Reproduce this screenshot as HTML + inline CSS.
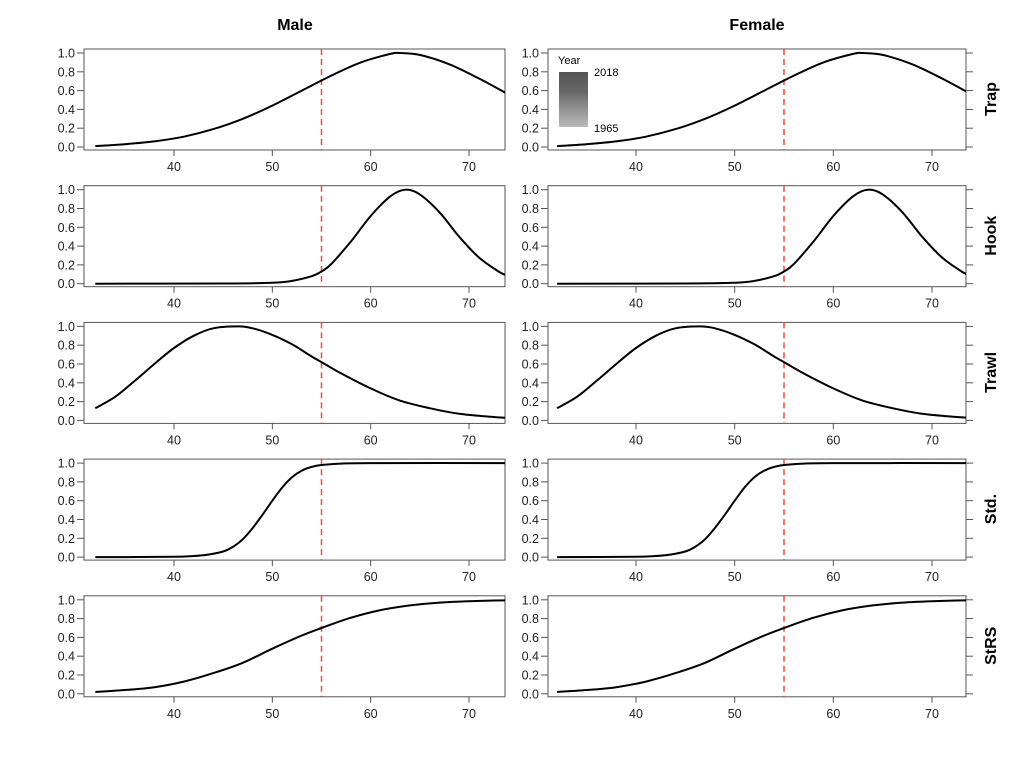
<!DOCTYPE html>
<html><head><meta charset="utf-8"><style>
body{margin:0;background:#fff;font-family:"Liberation Sans",sans-serif}
svg text{font-family:"Liberation Sans",sans-serif}
</style></head><body>
<svg id="chart" width="1024" height="768" viewBox="0 0 1024 768" xmlns="http://www.w3.org/2000/svg">
<defs><linearGradient id="yg" x1="0" y1="0" x2="0" y2="1">
<stop offset="0" stop-color="#555"/><stop offset="0.35" stop-color="#666"/><stop offset="0.6" stop-color="#888"/><stop offset="1" stop-color="#bbb"/></linearGradient></defs>
<text x="295" y="30" text-anchor="middle" font-size="16" font-weight="bold">Male</text>
<text x="757" y="30" text-anchor="middle" font-size="16" font-weight="bold">Female</text>
<g id="panels"></g>
</svg>
<script>
const gears = ["Trap","Hook","Trawl","Std.","StRS"];
const sexes = ["Male","Female"];
const xTicks = [40,50,60,70];
const yTicks = [0,0.2,0.4,0.6,0.8,1.0];
const cutLine = 55;
const trapX = [32,35,38,41,44,47,50,53,56,59,62,63,65,68,71,74];
const trapY = [0.01,0.03,0.06,0.11,0.19,0.30,0.44,0.60,0.76,0.90,0.99,1.0,0.98,0.88,0.73,0.56];
const hookX = [32,45,50,52,54,55,56,58,60,62,63.5,65,67,69,71,73,74];
const hookY = [0,0.002,0.01,0.03,0.08,0.13,0.21,0.45,0.72,0.93,1.0,0.95,0.76,0.50,0.28,0.13,0.08];
const trawlX = [32,34,36,38,40,42,44,46.5,48,50,52,54,55,57,60,63,66,69,72,74];
const trawlY = [0.13,0.25,0.42,0.60,0.77,0.90,0.98,1.0,0.98,0.91,0.81,0.68,0.62,0.50,0.34,0.21,0.13,0.07,0.04,0.025];
const stdX = [32,40,43,45,46,47,48,49,50,51,52,53,54,55,57,60,74];
const stdY = [0,0.003,0.02,0.06,0.11,0.19,0.31,0.45,0.60,0.74,0.85,0.92,0.96,0.98,0.995,1.0,1.0];
const strsX = [32,35,38,41,44,47,50,53,55,58,61,64,67,70,74];
const strsY = [0.02,0.04,0.07,0.13,0.22,0.33,0.48,0.62,0.70,0.81,0.89,0.94,0.97,0.985,0.995];
const seriesX = [trapX,hookX,trawlX,stdX,strsX];
const seriesY = [trapY,hookY,trawlY,stdY,strsY];

const NS="http://www.w3.org/2000/svg";
const root=document.getElementById('panels');
function mk(tag,attrs,parent){const e=document.createElementNS(NS,tag);for(const k in attrs)e.setAttribute(k,attrs[k]);(parent||root).appendChild(e);return e;}
const colLeft=[84,548], colRight=[505,966];
const xRef=[[174,469],[636,932]];
function xs(c,v){return xRef[c][0]+(v-40)*(xRef[c][1]-xRef[c][0])/30;}
function pathFor(px,py){let d="M"+px[0].toFixed(1)+","+py[0].toFixed(1);
 for(let i=0;i<px.length-1;i++){const x0=px[Math.max(i-1,0)],y0=py[Math.max(i-1,0)],x1=px[i],y1=py[i],x2=px[i+1],y2=py[i+1],x3=px[Math.min(i+2,px.length-1)],y3=py[Math.min(i+2,px.length-1)];
 d+=" C"+(x1+(x2-x0)/6).toFixed(1)+","+(y1+(y2-y0)/6).toFixed(1)+" "+(x2-(x3-x1)/6).toFixed(1)+","+(y2-(y3-y1)/6).toFixed(1)+" "+x2.toFixed(1)+","+y2.toFixed(1);}
 return d;}
gears.forEach((g,r)=>{
 const top=49+r*136.7, bot=top+101, y1=top+4, y0=top+98;
 const ys=v=>y0-(y0-y1)*v;
 sexes.forEach((s,c)=>{
  const L=colLeft[c],R=colRight[c];
  const grp=mk('g',{});
  
  
  const fr=mk('rect',{x:L,y:top,width:R-L,height:bot-top,fill:'none',stroke:'#555','stroke-width':1},grp);
  
  
  xTicks.forEach(t=>{const x=xs(c,t);
   mk('line',{x1:x,x2:x,y1:bot,y2:bot+6,stroke:'#555'},grp);
   const tx=mk('text',{x:x,y:bot+21,'text-anchor':'middle','font-size':12.5,fill:'#222'},grp);tx.textContent=t;
   
   });
  yTicks.forEach(t=>{const y=ys(t);
   mk('line',{x1:L-7,x2:L,y1:y,y2:y,stroke:'#555'},grp);
   const tx=mk('text',{x:L-9,y:y+4.5,'text-anchor':'end','font-size':12.5,fill:'#222'},grp);tx.textContent=t.toFixed(1);
   
   
   if(c===1)mk('line',{x1:R,x2:R+7,y1:y,y2:y,stroke:'#555'},grp);});
  const xc=xs(c,cutLine);
  const cl=mk('line',{x1:xc,x2:xc,y1:top,y2:bot,stroke:'#f04a3a','stroke-width':1.5,'stroke-dasharray':'6,4'},grp);
  
  
  const px=seriesX[r].map(v=>xs(c,v)), py=seriesY[r].map(ys);
  const cp=mk('clipPath',{id:'cp'+r+c},grp);mk('rect',{x:L,y:top,width:R-L,height:bot-top},cp);
  const p=mk('path',{d:pathFor(px,py),fill:'none',stroke:'#000','stroke-width':2,'clip-path':'url(#cp'+r+c+')'},grp);
  
  
 });
 const lab=mk('text',{x:0,y:0,transform:'translate(996,'+(top+50)+') rotate(-90)','text-anchor':'middle','font-size':16,'font-weight':'bold'});
 lab.textContent=g;
 
 
});
const lg=mk('g',{});


mk('rect',{x:559,y:72,width:29,height:55,fill:'url(#yg)'},lg);
const t1=mk('text',{x:558,y:64,'font-size':11},lg);t1.textContent='Year';
const t2=mk('text',{x:594,y:76,'font-size':11},lg);t2.textContent='2018';
const t3=mk('text',{x:594,y:132,'font-size':11},lg);t3.textContent='1965';
</script>
</body></html>
